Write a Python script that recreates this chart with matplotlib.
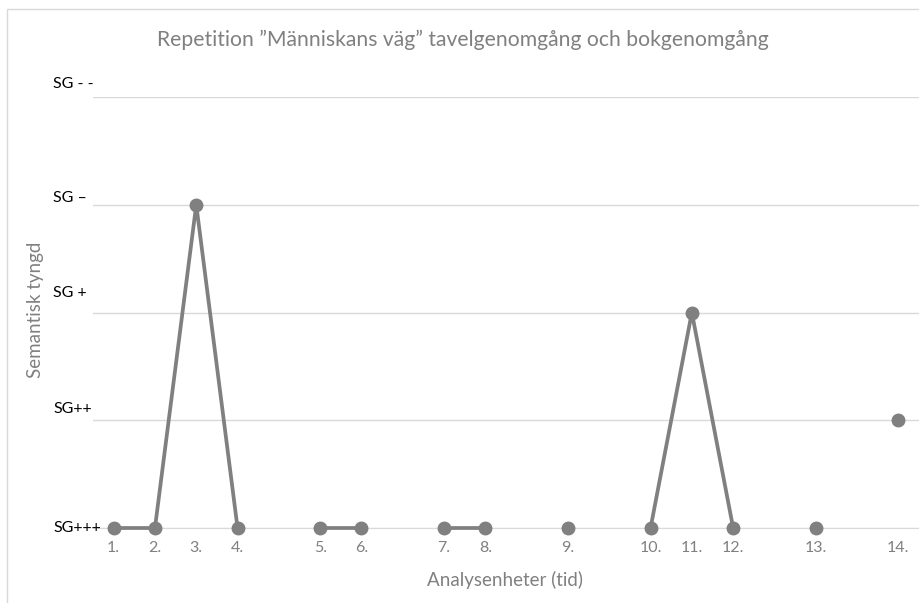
import matplotlib.pyplot as plt
import matplotlib.transforms as mtransforms
from matplotlib.patches import Rectangle
import numpy as np

# Analysenheter: tomma kategorier ger luckor i linjen
kategorier = ["1.", "2.", "3.", "4.", "", "5.", "6.", "", "7.", "8.", "",
              "9.", "", "10.", "11.", "12.", "", "13.", "", "14."]
tyngd = [1, 1, 4, 1, np.nan, 1, 1, np.nan, 1, 1, np.nan,
         1, np.nan, 1, 3, 1, np.nan, 1, np.nan, 2]

sg_nivaer = [1, 2, 3, 4, 5]
sg_etiketter = ["SG+++", "SG++", "SG +", "SG \u2013", "SG - -"]
sg_lyft = [0, 8, 14, 5, 9]  # textlyft i punkter

titel = "Repetition \u201dM\u00e4nniskans v\u00e4g\u201d tavelgenomg\u00e5ng och bokgenomg\u00e5ng"

plt.rcParams['font.family'] = ['Lato', 'DejaVu Sans']

fig = plt.figure(figsize=(9.2, 6.03), dpi=100)
ax = fig.add_axes([93 / 920, 75 / 603, 826 / 920, 431 / 603])

grey = '#808080'
grid = '#d9d9d9'

x = np.arange(len(kategorier))
ax.plot(x, tyngd, color=grey, lw=2.7, marker='o', ms=9,
        solid_capstyle='round', clip_on=False, zorder=3)

ax.set_xlim(-0.5, len(kategorier) - 0.5)
ax.set_ylim(1, 5)
ax.set_xticks(x)
ax.set_xticklabels(kategorier, color=grey, fontsize=11.5)
ax.tick_params(axis='x', length=0, pad=9)
ax.set_yticks(sg_nivaer)
ax.set_yticklabels([])
ax.tick_params(axis='y', length=0)
ax.yaxis.grid(True, color=grid, lw=1)
ax.set_axisbelow(True)
for side in ['top', 'right', 'left']:
    ax.spines[side].set_visible(False)
ax.spines['bottom'].set_color(grid)

# nivåetiketter till vänster om diagrammet
blend = mtransforms.blended_transform_factory(fig.transFigure, ax.transData)
for niva, etikett, lyft in zip(sg_nivaer, sg_etiketter, sg_lyft):
    tr = mtransforms.offset_copy(blend, fig=fig, x=0, y=lyft, units='points')
    ax.text(53 / 920, niva, etikett, transform=tr, ha='left', va='center',
            fontsize=11.5, color='black')

fig.text(463 / 920, 1 - 40 / 603, titel, ha='center', va='center',
         fontsize=15.2, color=grey)
fig.text(505 / 920, 1 - 580 / 603, "Analysenheter (tid)", ha='center',
         va='center', fontsize=13.5, color=grey)
fig.text(35 / 920, 1 - 310 / 603, "Semantisk tyngd", ha='center',
         va='center', rotation=90, fontsize=13.5, color=grey)

# diagramramen
fig.patches.append(Rectangle((7 / 920, -0.1), 1.2, 1.1 - 9 / 603,
                             transform=fig.transFigure, fill=False,
                             edgecolor=grid, lw=1))

fig.savefig('out.png', dpi=100)
